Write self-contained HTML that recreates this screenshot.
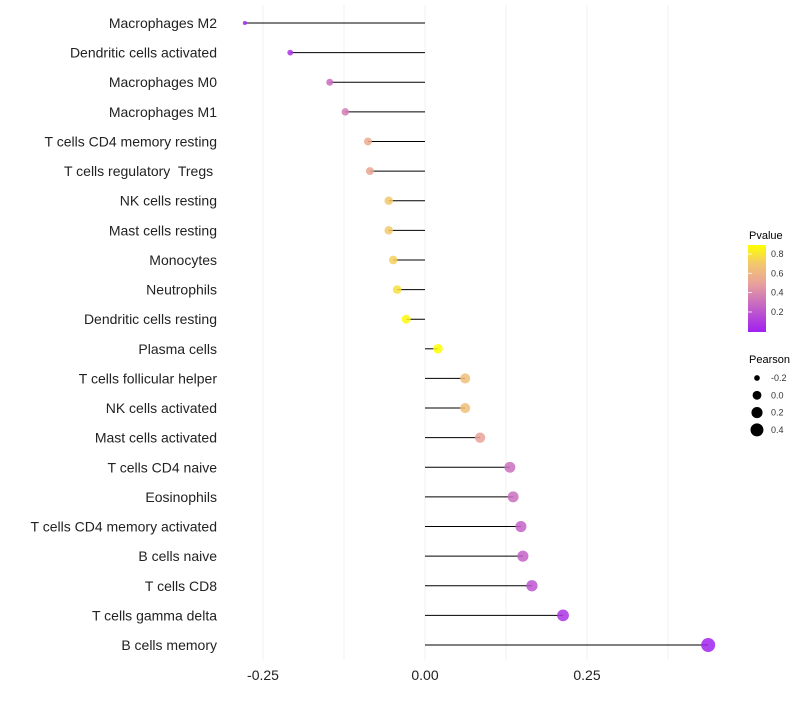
<!DOCTYPE html>
<html><head><meta charset="utf-8"><style>
body{margin:0;background:#fff;font-family:"Liberation Sans",sans-serif}
</style></head><body>
<svg id="chart" width="800" height="700" xmlns="http://www.w3.org/2000/svg">
<defs><linearGradient id="pg" x1="0" y1="1" x2="0" y2="0">
<stop offset="0" stop-color="#a020f0"/><stop offset="0.3" stop-color="#c566c4"/><stop offset="0.55" stop-color="#e8a09c"/><stop offset="0.78" stop-color="#f2c66e"/><stop offset="1" stop-color="#ffff00"/></linearGradient></defs>
<g id="grid"></g><g id="marks"></g><g id="labels"></g>
<text x="749" y="239" font-size="11">Pvalue</text>
<rect x="748" y="245" width="18" height="87" fill="url(#pg)"/>
<g id="cbticks" font-size="9"></g>
<text x="749" y="363" font-size="11">Pearson</text>
<g id="sizeleg" font-size="9"></g>
</svg>
<script>
const cats=["Macrophages M2","Dendritic cells activated","Macrophages M0","Macrophages M1","T cells CD4 memory resting","T cells regulatory  Tregs ","NK cells resting","Mast cells resting","Monocytes","Neutrophils","Dendritic cells resting","Plasma cells","T cells follicular helper","NK cells activated","Mast cells activated","T cells CD4 naive","Eosinophils","T cells CD4 memory activated","B cells naive","T cells CD8","T cells gamma delta","B cells memory"];
const pearson=[-0.278,-0.208,-0.147,-0.123,-0.088,-0.085,-0.056,-0.056,-0.049,-0.043,-0.029,0.020,0.062,0.062,0.085,0.131,0.136,0.148,0.151,0.165,0.213,0.437];
const pvalue=[0.02,0.08,0.3,0.35,0.55,0.52,0.7,0.7,0.73,0.78,0.87,0.9,0.65,0.65,0.5,0.3,0.3,0.25,0.25,0.2,0.08,0.01];
const xticks=[-0.25,0,0.25];
const xtickLabels=["-0.25","0.00","0.25"];
const gridVals=[-0.25,-0.125,0,0.125,0.25,0.375];
const ns="http://www.w3.org/2000/svg";
const X=v=>425+v*648;
const Y=i=>23+i*(622/21);
const R=v=>Math.sqrt(Math.max(2,21.5+63*v));
const stops=[[0,[160,32,240]],[0.3,[197,102,196]],[0.55,[232,160,156]],[0.78,[242,198,110]],[1,[255,255,0]]];
function col(p){let t=Math.max(0,Math.min(1,(p-0.0)/0.89));for(let k=1;k<stops.length;k++){if(t<=stops[k][0]){const a=stops[k-1],b=stops[k],f=(t-a[0])/(b[0]-a[0]);return "rgb("+a[1].map((c,j)=>Math.round(c+(b[1][j]-c)*f)).join(",")+")";}}return "rgb(255,255,0)";}
function mk(t,a,p){const e=document.createElementNS(ns,t);for(const k in a)e.setAttribute(k,a[k]);(p||document.getElementById("chart")).appendChild(e);return e;}
const g=document.getElementById("grid"),m=document.getElementById("marks"),lb=document.getElementById("labels");
gridVals.forEach(v=>{const l=mk("line",{x1:X(v),x2:X(v),y1:5,y2:660,stroke:"#f2f2f2","stroke-width":1},g);

});
xticks.forEach((v,i)=>{const t=mk("text",{x:X(v),y:680,"text-anchor":"middle","font-size":14,fill:"#222"},lb);t.textContent=xtickLabels[i];

});
cats.forEach((c,i)=>{const y=Y(i);
const t=mk("text",{x:217,y:y+5,"text-anchor":"end","font-size":14,fill:"#222","xml:space":"preserve",style:"white-space:pre"},lb);t.textContent=c;


const l=mk("line",{x1:X(0),x2:X(pearson[i]),y1:y,y2:y,stroke:"#000","stroke-width":1},m);


const d=mk("circle",{cx:X(pearson[i]),cy:y,r:R(pearson[i]),fill:col(pvalue[i]),"fill-opacity":0.85},m);

});
const cbv=[0.8,0.6,0.4,0.2],cb=document.getElementById("cbticks");
cbv.forEach(v=>{const y=332-(v+0.007)*96.7;
const l=mk("line",{x1:748,x2:752,y1:y,y2:y,stroke:"#fff","stroke-width":0.8},cb);


const t=mk("text",{x:771,y:y+3,fill:"#333"},cb);t.textContent=v.toFixed(1);

});
const sv=[-0.2,0,0.2,0.4],sl=document.getElementById("sizeleg");
sv.forEach((v,i)=>{const y=378+i*17.3;
const c=mk("circle",{cx:757,cy:y,r:R(v)*0.95,fill:"#000"},sl);


const t=mk("text",{x:771,y:y+3,fill:"#333"},sl);t.textContent=v.toFixed(1);

});
</script>
</body></html>
